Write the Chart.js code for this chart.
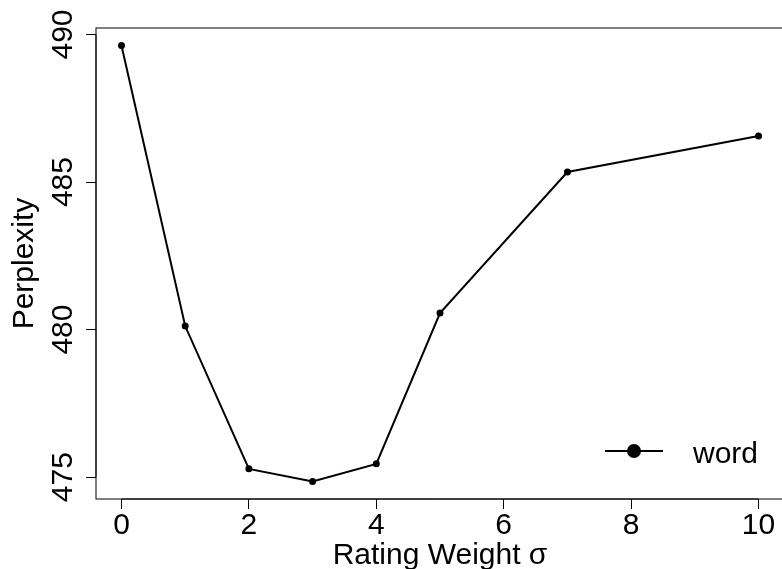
<!DOCTYPE html>
<html>
<head>
<meta charset="utf-8">
<script src="https://cdn.jsdelivr.net/npm/chart.js@4.4.1/dist/chart.umd.min.js"></script>
<style>
  html, body { margin: 0; padding: 0; background: #fff; overflow: hidden; }
  #wrap { position: relative; width: 788px; height: 569px; }
</style>
</head>
<body>
<div id="wrap"><canvas id="c" width="788" height="569"></canvas></div>
<script>
// values
const sigmas = [0, 1, 2, 3, 4, 5, 7, 10];
const perplexity = [489.63, 480.12, 475.28, 474.85, 475.45, 480.56, 485.34, 486.56];
const xTicks = [0, 2, 4, 6, 8, 10];
const yTicks = [475, 480, 485, 490];
const seriesName = 'word';
const xTitle = 'Rating Weight σ';
const yTitle = 'Perplexity';

const FONT = '"Liberation Sans", Arial, sans-serif';

// R style axis range: data range padded by 4% each side
function padRange(vals) {
  const lo = Math.min(...vals), hi = Math.max(...vals);
  const d = (hi - lo) * 0.04;
  return [lo - d, hi + d];
}
const [xMin, xMax] = padRange(sigmas);
const [yMin, yMax] = padRange(perplexity);

const rPlot = {
  id: 'rPlot',
  afterDraw(chart) {
    const ctx = chart.ctx;
    const a = chart.chartArea;
    const xs = chart.scales.x, ys = chart.scales.y;
    ctx.save();
    ctx.strokeStyle = '#000';
    ctx.lineWidth = 1;
    // box
    ctx.strokeRect(a.left, a.top, a.right - a.left, a.bottom - a.top);
    // axis lines between first and last tick
    ctx.beginPath();
    ctx.moveTo(xs.getPixelForValue(xTicks[0]), a.bottom);
    ctx.lineTo(xs.getPixelForValue(xTicks[xTicks.length - 1]), a.bottom);
    ctx.moveTo(a.left, ys.getPixelForValue(yTicks[0]));
    ctx.lineTo(a.left, ys.getPixelForValue(yTicks[yTicks.length - 1]));
    ctx.stroke();

    ctx.fillStyle = '#000';
    ctx.font = '30px ' + FONT;
    // x tick labels
    ctx.textAlign = 'center';
    ctx.textBaseline = 'alphabetic';
    xs.ticks.forEach(t => {
      ctx.fillText(String(t.value), xs.getPixelForValue(t.value), 534);
    });
    // x title
    ctx.fillText(xTitle, (a.left + a.right) / 2, 564);
    // y tick labels, rotated
    ys.ticks.forEach(t => {
      ctx.save();
      ctx.translate(72, ys.getPixelForValue(t.value));
      ctx.rotate(-Math.PI / 2);
      ctx.fillText(String(t.value), 0, 0);
      ctx.restore();
    });
    // y title
    ctx.save();
    ctx.translate(33, (a.top + a.bottom) / 2);
    ctx.rotate(-Math.PI / 2);
    ctx.fillText(yTitle, 0, 0);
    ctx.restore();

    // legend
    ctx.lineWidth = 2;
    ctx.beginPath();
    ctx.moveTo(605, 451);
    ctx.lineTo(663, 451);
    ctx.stroke();
    ctx.beginPath();
    ctx.arc(634, 451, 7, 0, Math.PI * 2);
    ctx.fill();
    ctx.textAlign = 'left';
    ctx.fillText(seriesName, 693, 463);
    ctx.restore();
  }
};

new Chart(document.getElementById('c'), {
  type: 'line',
  data: {
    datasets: [{
      label: seriesName,
      data: sigmas.map((s, i) => ({ x: s, y: perplexity[i] })),
      borderColor: '#000',
      backgroundColor: '#000',
      borderWidth: 2,
      pointRadius: 3.5,
      pointBackgroundColor: '#000',
      pointBorderWidth: 0,
      tension: 0,
      fill: false
    }]
  },
  options: {
    responsive: false,
    animation: false,
    devicePixelRatio: 1,
    layout: { padding: { top: 28, right: 0, left: 0, bottom: 0 } },
    plugins: { legend: { display: false }, tooltip: { enabled: false } },
    scales: {
      x: {
        type: 'linear',
        min: xMin,
        max: xMax,
        afterBuildTicks: s => { s.ticks = xTicks.map(v => ({ value: v })); },
        afterFit: s => { s.height = 70; },
        grid: { drawOnChartArea: false, drawTicks: true, tickLength: 10, color: '#000', lineWidth: 1 },
        border: { display: false },
        ticks: { display: false }
      },
      y: {
        type: 'linear',
        min: yMin,
        max: yMax,
        afterBuildTicks: s => { s.ticks = yTicks.map(v => ({ value: v })); },
        afterFit: s => { s.width = 96; },
        grid: { drawOnChartArea: false, drawTicks: true, tickLength: 10, color: '#000', lineWidth: 1 },
        border: { display: false },
        ticks: { display: false }
      }
    }
  },
  plugins: [rPlot]
});
</script>
</body>
</html>
